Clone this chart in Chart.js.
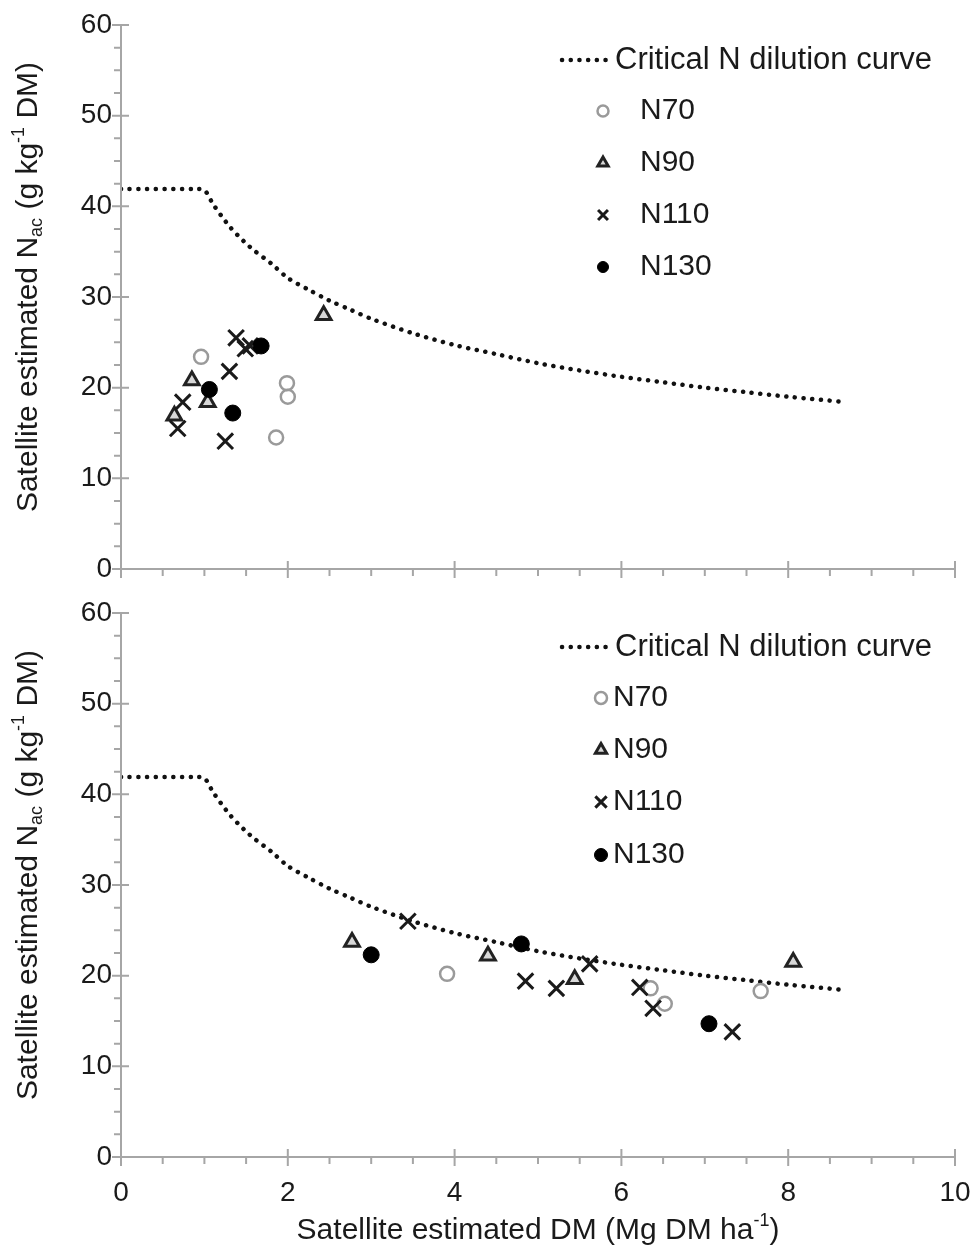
<!DOCTYPE html>
<html>
<head>
<meta charset="utf-8">
<script src="https://cdn.jsdelivr.net/npm/chart.js@4.4.0/dist/chart.umd.min.js"></script>
<style>
html, body { margin: 0; padding: 0; background: #fff; }
#wrap { position: relative; width: 970px; height: 1247px; }
.box { position: absolute; left: 0; width: 970px; }
</style>
</head>
<body>
<div id="wrap">
  <div class="box" style="top:0;height:590px"><canvas id="topChart" width="970" height="590"></canvas></div>
  <div class="box" style="top:590px;height:657px"><canvas id="bottomChart" width="970" height="657"></canvas></div>
</div>
<script>
// critical N dilution curve
const curveX = [0, 0.9, 1.0, 1.1, 1.2, 1.3, 1.4, 1.5, 1.6, 1.8, 2.0, 2.25, 2.5, 2.75, 3.0, 3.5, 4.0, 4.5, 5.0, 5.5, 6.0, 6.5, 7.0, 7.5, 8.0, 8.7];
const curveY = [41.9, 41.9, 41.8, 40.3, 39.0, 37.8, 36.8, 35.9, 35.1, 33.7, 32.1, 30.8, 29.6, 28.6, 27.6, 26.0, 24.7, 23.7, 22.7, 21.9, 21.2, 20.6, 20.0, 19.5, 19.0, 18.4];

// top panel
const topN70 = [[0.96, 23.4], [1.99, 20.5], [2.0, 19.0], [1.86, 14.5]];
const topN90 = [[2.43, 28.0], [0.85, 20.8], [1.04, 18.4], [0.64, 16.9]];
const topN110 = [[1.38, 25.5], [1.49, 24.3], [1.55, 24.6], [1.30, 21.8], [0.74, 18.4], [0.68, 15.5], [1.25, 14.1]];
const topN130 = [[1.68, 24.6], [1.06, 19.8], [1.34, 17.2]];

// bottom panel
const botN70 = [[3.91, 20.2], [6.35, 18.6], [6.52, 16.9], [7.67, 18.3]];
const botN90 = [[2.77, 23.7], [4.40, 22.2], [5.44, 19.6], [8.06, 21.5]];
const botN110 = [[3.44, 26.0], [4.85, 19.4], [5.22, 18.6], [5.62, 21.3], [6.22, 18.7], [6.38, 16.4], [7.33, 13.8]];
const botN130 = [[3.0, 22.3], [4.80, 23.5], [7.05, 14.7]];

const xTicks = [0, 2, 4, 6, 8, 10];
const yTicks = [0, 10, 20, 30, 40, 50, 60];
const seriesNames = ['Critical N dilution curve', 'N70', 'N90', 'N110', 'N130'];

const fontFam = '"Liberation Sans", Arial, sans-serif';
const textColor = '#1a1a1a';
const axisColor = '#a6a6a6';

const toPts = arr => arr.map(p => ({ x: p[0], y: p[1] }));

function makeDatasets(n70, n90, n110, n130) {
    return [
        {
            label: seriesNames[0],
            data: curveX.map((x, i) => ({ x: x, y: curveY[i] })),
            showLine: true, pointRadius: 0, borderColor: '#111', borderWidth: 4.5,
            borderDash: [0.1, 8.6], borderCapStyle: 'round', tension: 0.3, order: 5
        },
        {
            label: seriesNames[1], data: toPts(n70), pointStyle: 'circle', pointRadius: 7,
            borderColor: '#9a9a9a', backgroundColor: 'rgba(255,255,255,0)', borderWidth: 2.5, order: 4
        },
        {
            label: seriesNames[2], data: toPts(n90), pointStyle: 'triangle', pointRadius: 8.5,
            borderColor: '#222', backgroundColor: '#d8d8d8', borderWidth: 3, order: 3
        },
        {
            label: seriesNames[3], data: toPts(n110), pointStyle: 'crossRot', pointRadius: 11,
            borderColor: '#1a1a1a', borderWidth: 3, order: 2
        },
        {
            label: seriesNames[4], data: toPts(n130), pointStyle: 'circle', pointRadius: 8,
            borderColor: '#000', backgroundColor: '#000', borderWidth: 1, order: 1
        }
    ];
}

function drawRich(ctx, parts, cx, cy, rot) {
    ctx.save();
    ctx.translate(cx, cy);
    ctx.rotate(rot);
    let w = 0;
    parts.forEach(p => {
        ctx.font = p.size + 'px ' + fontFam;
        p.w = ctx.measureText(p.t).width;
        w += p.w;
    });
    let x = -w / 2;
    ctx.textBaseline = 'middle';
    ctx.textAlign = 'left';
    ctx.fillStyle = textColor;
    parts.forEach(p => {
        ctx.font = p.size + 'px ' + fontFam;
        ctx.fillText(p.t, x, p.dy);
        x += p.w;
    });
    ctx.restore();
}

function drawMark(ctx, ds, x, y, r) {
    ctx.save();
    ctx.lineWidth = ds.borderWidth;
    ctx.strokeStyle = ds.borderColor;
    ctx.fillStyle = ds.backgroundColor || 'transparent';
    ctx.beginPath();
    if (ds.pointStyle === 'circle') {
        ctx.arc(x, y, r, 0, Math.PI * 2);
        ctx.fill();
        ctx.stroke();
    } else if (ds.pointStyle === 'triangle') {
        for (let k = 0; k < 3; k++) {
            const a = k * 2 * Math.PI / 3;
            const px = x + Math.sin(a) * r, py = y - Math.cos(a) * r;
            if (k === 0) ctx.moveTo(px, py); else ctx.lineTo(px, py);
        }
        ctx.closePath();
        ctx.fill();
        ctx.stroke();
    } else {
        const o = r * Math.SQRT1_2;
        ctx.moveTo(x - o, y - o); ctx.lineTo(x + o, y + o);
        ctx.moveTo(x - o, y + o); ctx.lineTo(x + o, y - o);
        ctx.stroke();
    }
    ctx.restore();
}

// axes with crossing major ticks and outside minor ticks, legend and titles
const decor = {
    id: 'decor',
    afterDraw(chart, args, opts) {
        const ctx = chart.ctx;
        const xs = chart.scales.x, ys = chart.scales.y;
        const x0 = xs.getPixelForValue(0), y0 = ys.getPixelForValue(0);
        ctx.save();
        ctx.strokeStyle = axisColor;
        ctx.lineWidth = 2;
        ctx.beginPath();
        ctx.moveTo(x0, ys.getPixelForValue(60)); ctx.lineTo(x0, y0);
        ctx.moveTo(x0, y0); ctx.lineTo(xs.getPixelForValue(10), y0);
        xTicks.forEach(v => {
            const p = xs.getPixelForValue(v);
            ctx.moveTo(p, y0 - 8); ctx.lineTo(p, y0 + 9);
        });
        for (let v = 0.5; v < 10; v += 0.5) {
            if (v % 2 === 0) continue;
            const p = xs.getPixelForValue(v);
            ctx.moveTo(p, y0); ctx.lineTo(p, y0 + 7);
        }
        yTicks.forEach(v => {
            const p = ys.getPixelForValue(v);
            ctx.moveTo(x0 - 9, p); ctx.lineTo(x0 + 8, p);
        });
        for (let v = 2.5; v < 60; v += 2.5) {
            if (v % 10 === 0) continue;
            const p = ys.getPixelForValue(v);
            ctx.moveTo(x0 - 7, p); ctx.lineTo(x0, p);
        }
        ctx.stroke();
        ctx.restore();

        // y title
        drawRich(ctx, [
            { t: 'Satellite estimated N', size: 30, dy: 0 },
            { t: 'ac', size: 18, dy: 8 },
            { t: ' (g kg', size: 30, dy: 0 },
            { t: '-1', size: 18, dy: -10 },
            { t: ' DM)', size: 30, dy: 0 }
        ], 29, opts.yTitleY, -Math.PI / 2);

        if (opts.xTitle) {
            drawRich(ctx, [
                { t: 'Satellite estimated DM (Mg DM ha', size: 30, dy: 0 },
                { t: '-1', size: 18, dy: -10 },
                { t: ')', size: 30, dy: 0 }
            ], 538, opts.xTitleY, 0);
        }

        // legend
        const L = opts.legend;
        const dsets = chart.data.datasets;
        ctx.save();
        ctx.strokeStyle = '#111';
        ctx.lineWidth = 4.5;
        ctx.lineCap = 'round';
        ctx.setLineDash([0.1, 8.6]);
        ctx.beginPath();
        ctx.moveTo(L.lineX1, L.rows[0]); ctx.lineTo(L.lineX2, L.rows[0]);
        ctx.stroke();
        ctx.restore();
        ctx.save();
        ctx.fillStyle = textColor;
        ctx.textBaseline = 'middle';
        ctx.font = '31px ' + fontFam;
        ctx.fillText(dsets[0].label, L.lineTextX, L.rows[0]);
        ctx.font = '30px ' + fontFam;
        for (let i = 1; i < 5; i++) {
            const ds = dsets[i];
            drawMark(ctx, ds, L.markX, L.rows[i], L.radii[i - 1]);
            ctx.fillStyle = textColor;
            ctx.fillText(ds.label, L.textX, L.rows[i]);
        }
        ctx.restore();
    }
};

function makeChart(id, datasets, showXLabels, xHeight, padTop, decorOpts) {
    return new Chart(document.getElementById(id), {
        type: 'scatter',
        data: { datasets: datasets },
        plugins: [decor],
        options: {
            responsive: false,
            animation: false,
            layout: { padding: { top: padTop, right: 15, left: 0, bottom: 0 } },
            plugins: {
                legend: { display: false },
                tooltip: { enabled: false },
                decor: decorOpts
            },
            scales: {
                x: {
                    type: 'linear', min: 0, max: 10,
                    grid: { display: false, drawTicks: false, tickLength: 0 },
                    border: { display: false },
                    ticks: {
                        display: showXLabels, stepSize: 2, padding: 19,
                        color: textColor, font: { family: fontFam, size: 28 }
                    },
                    afterFit: s => {
                        s.height = xHeight;
                        s.paddingRight = 0;
                        s.paddingLeft = 0;
                    }
                },
                y: {
                    type: 'linear', min: 0, max: 60,
                    grid: { display: false, drawTicks: false, tickLength: 0 },
                    border: { display: false },
                    ticks: {
                        stepSize: 10, padding: 9,
                        color: textColor, font: { family: fontFam, size: 28 }
                    },
                    afterFit: s => {
                        s.width = 121;
                        s.paddingTop = 0;
                        s.paddingBottom = 0;
                    }
                }
            }
        }
    });
}

makeChart('topChart', makeDatasets(topN70, topN90, topN110, topN130), false, 21, 25, {
    yTitleY: 287,
    xTitle: false,
    legend: { lineX1: 562, lineX2: 607, lineTextX: 615, markX: 603, textX: 640,
              rows: [60, 111, 163, 215, 267], radii: [5.5, 6, 7, 5.5] }
});

makeChart('bottomChart', makeDatasets(botN70, botN90, botN110, botN130), true, 90, 23, {
    yTitleY: 285,
    xTitle: true,
    xTitleY: 641,
    legend: { lineX1: 562, lineX2: 607, lineTextX: 615, markX: 601, textX: 613,
              rows: [57, 108, 160, 212, 265], radii: [6, 6.5, 8, 6.5] }
});
</script>
</body>
</html>
